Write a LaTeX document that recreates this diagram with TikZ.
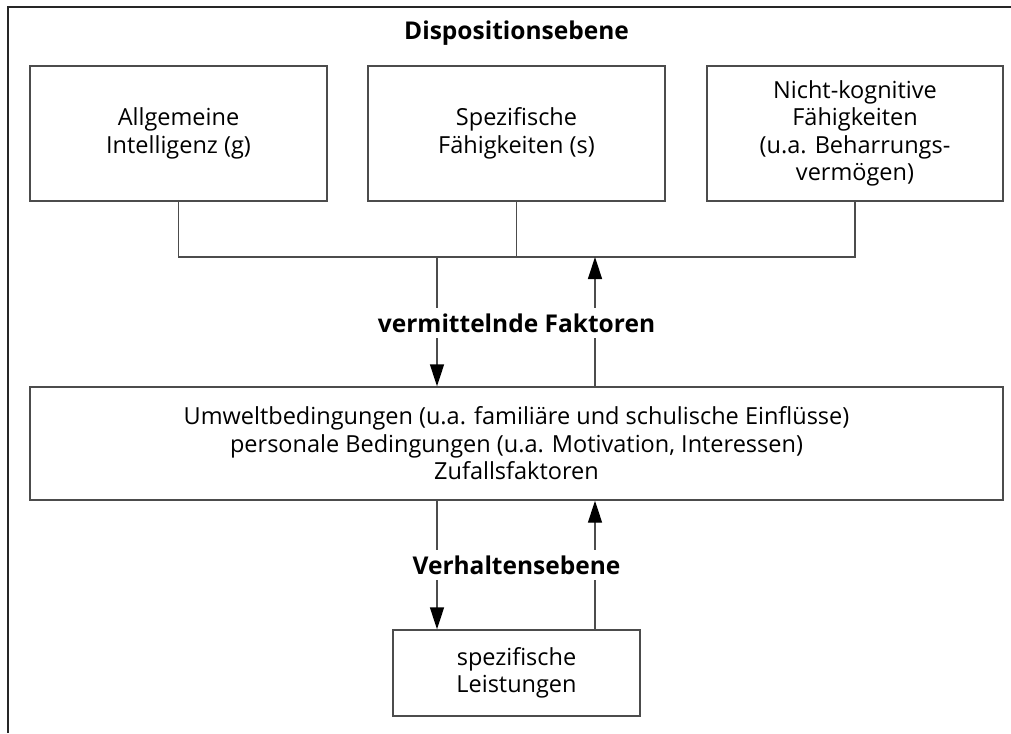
\documentclass[tikz,border=0pt]{standalone}
\usepackage{fontspec}
\setmainfont{Open Sans}
\usetikzlibrary{arrows.meta}
\begin{document}
\begin{tikzpicture}[x=1pt,y=-1pt,
  line/.style={draw=black!70, line width=1.4pt},
  box/.style={line, fill=white, align=center, inner sep=0pt,
    font=\fontsize{23.5}{27.5}\selectfont},
  arr/.style={line, -{Triangle[length=22pt,width=14pt,fill=black,color=black]}},
  lab/.style={fill=white, inner xsep=2pt, inner ysep=6pt,
    font=\fontsize{24.5}{28}\selectfont\bfseries}]
\useasboundingbox (0,0) rectangle (1011,733);
\draw[line, draw=black!85] (8,733) -- (8,7) -- (1011,7);
\node[font=\fontsize{24.5}{28}\selectfont\bfseries] (t) at (516.5,33) {Dispositionsebene};
\node[box, minimum width=297pt, minimum height=135pt] (b1) at (178.5,133.5) {Allgemeine\\Intelligenz (g)};
\node[box, minimum width=297pt, minimum height=135pt] (b2) at (516.5,133.5) {Spezifische\\Fähigkeiten (s)};
\node[box, minimum width=296pt, minimum height=135pt] (b3) at (855,133.5) {Nicht-kognitive\\Fähigkeiten\\(u.a. Beharrungs-\\vermögen)};
\node[box, minimum width=973pt, minimum height=113pt] (m) at (516.5,443.5) {Umweltbedingungen (u.a. familiäre und schulische Einflüsse)\\personale Bedingungen (u.a. Motivation, Interessen)\\Zufallsfaktoren};
\node[box, minimum width=247pt, minimum height=86pt] (s) at (516.5,673) {spezifische\\Leistungen};
\coordinate (dl) at (437,257);
\coordinate (ul) at (595,257);
\draw[line] (b1.south) -- (b1.south |- dl) -- (b3.south |- dl) -- (b3.south);
\draw[line] (b2.south) -- (b2.south |- dl);
\draw[arr] (dl) -- (dl |- m.north);
\draw[arr] (ul |- m.north) -- (ul);
\draw[arr] (dl |- m.south) -- (dl |- s.north);
\draw[arr] (ul |- s.north) -- (ul |- m.south);
\node[lab] (vf) at (516.5,323) {vermittelnde Faktoren};
\node[lab] (vh) at (516.5,565) {Verhaltensebene};
\end{tikzpicture}
\end{document}
